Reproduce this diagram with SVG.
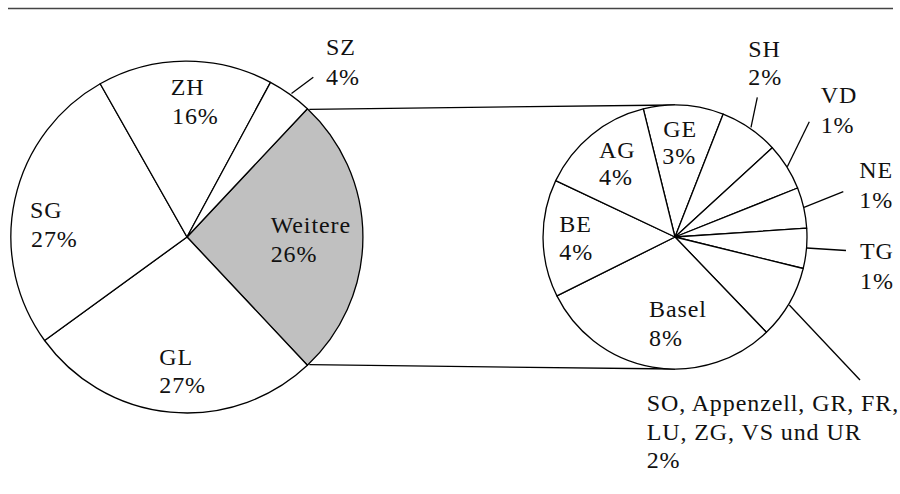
<svg xmlns="http://www.w3.org/2000/svg" width="900" height="494" viewBox="0 0 900 494">
<style>
.sl{fill:#fff;stroke:#000;stroke-width:1.3;stroke-linejoin:round}
.gr{fill:#c0c0c0}
.ln{stroke:#000;stroke-width:1.3;fill:none}
.t{font-family:"Liberation Serif","Times New Roman",serif;font-size:24px;fill:#111;letter-spacing:0.9px}
</style>
<rect width="900" height="494" fill="#fff"/>
<line x1="8" y1="8.5" x2="893" y2="8.5" stroke="#444" stroke-width="1.4"/>
<g id="connectors">
<line class="ln" x1="309.3" y1="109.3" x2="675" y2="105"/>
<line class="ln" x1="309.3" y1="364.7" x2="675" y2="369"/>
</g>
<g id="pie-left">
<g id="weitere"><path class="sl gr" d="M187,237 L307.4,108.7 A176,176 0 0 1 307.4,365.3 Z"/><text class="t" x="270.7" y="233">Weitere</text><text class="t" x="270.7" y="262">26%</text></g>
<g id="gl"><path class="sl" d="M187,237 L307.4,365.3 A176,176 0 0 1 44.6,340.5 Z"/><text class="t" x="159.3" y="365">GL</text><text class="t" x="159.3" y="393">27%</text></g>
<g id="sg"><path class="sl" d="M187,237 L44.6,340.5 A176,176 0 0 1 100.2,83.7 Z"/><text class="t" x="30" y="218">SG</text><text class="t" x="31" y="247">27%</text></g>
<g id="zh"><path class="sl" d="M187,237 L100.2,83.7 A176,176 0 0 1 270.5,82.4 Z"/><text class="t" x="170.7" y="95">ZH</text><text class="t" x="172" y="124">16%</text></g>
<g id="sz"><path class="sl" d="M187,237 L270.5,82.4 A176,176 0 0 1 307.4,108.7 Z"/><line class="ln" x1="291.5" y1="93.6" x2="313.3" y2="77.3"/><text class="t" x="326" y="55">SZ</text><text class="t" x="326" y="85">4%</text></g>
</g>
<g id="pie-right">
<g id="ge"><path class="sl" d="M675,237 L643.3,108.9 A132,132 0 0 1 723.2,114.1 Z"/><text class="t" x="663.3" y="136.7">GE</text><text class="t" x="662.3" y="164">3%</text></g>
<g id="sh"><path class="sl" d="M675,237 L723.2,114.1 A132,132 0 0 1 772.3,147.8 Z"/><line class="ln" x1="751" y1="127.3" x2="757.3" y2="97.3"/><text class="t" x="748.3" y="56.7">SH</text><text class="t" x="748.3" y="85">2%</text></g>
<g id="vd"><path class="sl" d="M675,237 L772.3,147.8 A132,132 0 0 1 797.6,188 Z"/><line class="ln" x1="787.3" y1="166.7" x2="809.3" y2="121.7"/><text class="t" x="820.7" y="103.3">VD</text><text class="t" x="820.7" y="133.3">1%</text></g>
<g id="ne"><path class="sl" d="M675,237 L797.6,188 A132,132 0 0 1 806.7,228.2 Z"/><line class="ln" x1="804" y1="207.3" x2="843.3" y2="191.7"/><text class="t" x="859.3" y="178.3">NE</text><text class="t" x="859.3" y="208.3">1%</text></g>
<g id="tg"><path class="sl" d="M675,237 L806.7,228.2 A132,132 0 0 1 803.2,268.5 Z"/><line class="ln" x1="806.7" y1="248" x2="846" y2="250.5"/><text class="t" x="860" y="259.3">TG</text><text class="t" x="860" y="289.3">1%</text></g>
<g id="so"><path class="sl" d="M675,237 L803.2,268.5 A132,132 0 0 1 766.4,332.3 Z"/><line class="ln" x1="789.3" y1="305" x2="860" y2="380"/><text class="t" x="646.7" y="411">SO, Appenzell, GR, FR,</text><text class="t" x="646.7" y="440">LU, ZG, VS und UR</text><text class="t" x="646.7" y="468.3">2%</text></g>
<g id="basel"><path class="sl" d="M675,237 L766.4,332.3 A132,132 0 0 1 556.9,295.9 Z"/><text class="t" x="649" y="317.3">Basel</text><text class="t" x="649" y="345.7">8%</text></g>
<g id="be"><path class="sl" d="M675,237 L556.9,295.9 A132,132 0 0 1 555.7,180.6 Z"/><text class="t" x="559.3" y="232.3">BE</text><text class="t" x="559.3" y="260">4%</text></g>
<g id="ag"><path class="sl" d="M675,237 L555.7,180.6 A132,132 0 0 1 643.3,108.9 Z"/><text class="t" x="599" y="157.7">AG</text><text class="t" x="599" y="185">4%</text></g>
</g>
</svg>
